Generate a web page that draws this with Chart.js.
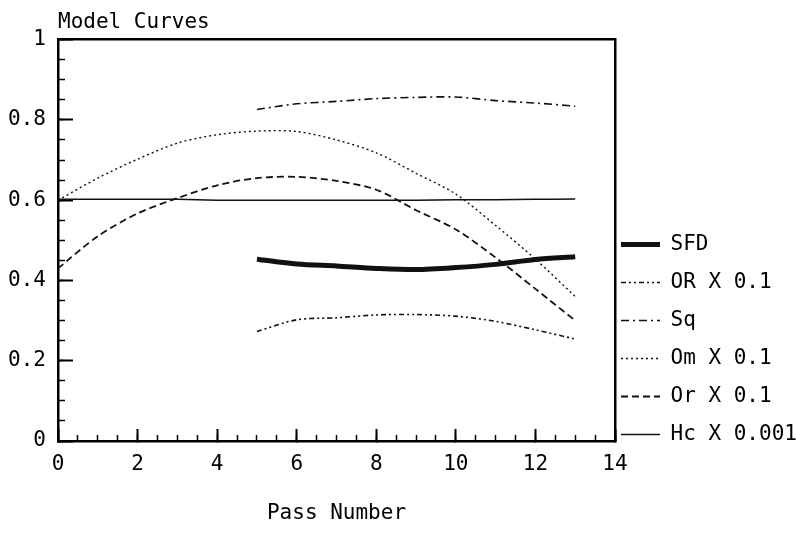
<!DOCTYPE html>
<html><head><meta charset="utf-8">
<script src="https://cdn.jsdelivr.net/npm/chart.js@4"></script>
<style>html,body{margin:0;padding:0;background:#fff}</style>
</head><body>
<canvas id="c" width="796" height="540"></canvas>
<script>
// ---- data ----
const passNumbers = [0, 1, 2, 3, 4, 5, 6, 7, 8, 9, 10, 11, 12, 13];
const seriesNames = ['SFD', 'OR X 0.1', 'Sq', 'Om X 0.1', 'Or X 0.1', 'Hc X 0.001'];
const sfd   = [null, null, null, null, null, 0.453, 0.441, 0.436, 0.430, 0.427, 0.432, 0.440, 0.452, 0.459];
const orBig = [null, null, null, null, null, 0.273, 0.302, 0.307, 0.314, 0.315, 0.311, 0.298, 0.277, 0.254];
const sq    = [null, null, null, null, null, 0.826, 0.840, 0.846, 0.853, 0.856, 0.857, 0.848, 0.842, 0.834];
const om    = [0.600, 0.655, 0.702, 0.742, 0.763, 0.772, 0.771, 0.750, 0.718, 0.667, 0.615, 0.537, 0.453, 0.360];
const orSm  = [0.430, 0.510, 0.567, 0.605, 0.637, 0.655, 0.658, 0.648, 0.626, 0.575, 0.527, 0.457, 0.379, 0.300];
const hc    = [0.602, 0.602, 0.602, 0.602, 0.600, 0.600, 0.600, 0.600, 0.600, 0.600, 0.601, 0.601, 0.602, 0.603];
const xTickStep = 2, xMinorStep = 0.5, yTickStep = 0.2, yMinorStep = 0.05;

const FONT = "'DejaVu Sans Mono', 'Liberation Mono', monospace";
Chart.defaults.font.family = FONT;
Chart.defaults.font.size = 21;
Chart.defaults.color = '#000';

const pts = arr => passNumbers.map((x, i) => ({x: x, y: arr[i]}));
const INK = '#111';
const styles = [
  {borderWidth: 5, borderDash: []},
  {borderWidth: 1.6, borderDash: [5, 3, 2, 3, 2, 3]},
  {borderWidth: 1.6, borderDash: [8, 4, 2, 4]},
  {borderWidth: 1.4, borderDash: [2, 3]},
  {borderWidth: 1.8, borderDash: [7, 4]},
  {borderWidth: 1.5, borderDash: []}
];
const seriesData = [sfd, orBig, sq, om, orSm, hc];

new Chart(document.getElementById('c'), {
  type: 'line',
  data: {
    datasets: seriesData.map((arr, i) => ({
      label: seriesNames[i],
      data: pts(arr),
      borderColor: INK,
      backgroundColor: INK,
      borderWidth: styles[i].borderWidth,
      borderDash: styles[i].borderDash,
      pointRadius: 0,
      tension: 0.3,
      fill: false
    }))
  },
  options: {
    responsive: false,
    animation: false,
    devicePixelRatio: 1,
    layout: {padding: 0},
    plugins: {
      tooltip: {enabled: false},
      title: {
        display: true, text: 'Model Curves', position: 'top', align: 'start', fullSize: false,
        font: {size: 21, weight: 'normal'}, color: '#000', padding: {top: 8, bottom: 4}
      },
      legend: {
        position: 'right', align: 'start', fullSize: true, maxWidth: 181,
        title: {display: true, text: ' ', font: {size: 10}, padding: {top: 0, bottom: 216}},
        labels: {
          usePointStyle: true, pointStyle: 'line', pointStyleWidth: 39, boxWidth: 39,
          padding: 6, color: '#000', font: {size: 21, lineHeight: '32px'},
          generateLabels: chart => Chart.defaults.plugins.legend.labels.generateLabels(chart)
            .map(l => {
              const ds = chart.data.datasets[l.datasetIndex];
              return Object.assign({}, l, {
                text: [l.text],
                lineDash: ds.borderDash,
                lineWidth: ds.borderWidth,
                strokeStyle: ds.borderColor,
                fillStyle: ds.borderColor
              });
            })
        }
      }
    },
    scales: {
      x: {
        type: 'linear', axis: 'x', position: 'bottom', min: 0, max: 14,
        ticks: {stepSize: xTickStep, padding: 23, maxRotation: 0, autoSkip: false, color: '#000'},
        grid: {drawOnChartArea: false, tickLength: -12, tickWidth: 2, tickColor: '#000'},
        border: {display: true, color: '#000', width: 2.5},
        title: {display: true, text: 'Pass Number', color: '#000', padding: {top: 0, bottom: 14}},
        afterFit: s => { s.height = 99; }
      },
      xMinor: {
        type: 'linear', axis: 'x', position: {y: 0}, min: 0, max: 14,
        ticks: {stepSize: xMinorStep, display: false, autoSkip: false, maxTicksLimit: 100},
        grid: {drawOnChartArea: false, tickLength: -6, tickWidth: 1.5, tickColor: '#000'},
        border: {display: false}
      },
      xTop: {
        type: 'linear', axis: 'x', position: 'top', min: 0, max: 14,
        ticks: {display: false},
        grid: {drawOnChartArea: false, drawTicks: false},
        border: {display: true, color: '#000', width: 2.5}
      },
      y: {
        type: 'linear', axis: 'y', position: 'left', min: 0, max: 1,
        ticks: {stepSize: yTickStep, padding: 27, color: '#000',
          callback: v => String(Math.round(v * 100) / 100)},
        grid: {drawOnChartArea: false, tickLength: -15, tickWidth: 2, tickColor: '#000'},
        border: {display: true, color: '#000', width: 2.5},
        afterFit: s => { s.width = 58; }
      },
      yMinor: {
        type: 'linear', axis: 'y', position: {x: 0}, min: 0, max: 1,
        ticks: {stepSize: yMinorStep, display: false, autoSkip: false, maxTicksLimit: 100},
        grid: {drawOnChartArea: false, tickLength: -7, tickWidth: 1.5, tickColor: '#000'},
        border: {display: false}
      },
      yRight: {
        type: 'linear', axis: 'y', position: 'right', min: 0, max: 1,
        ticks: {display: false},
        grid: {drawOnChartArea: false, drawTicks: false},
        border: {display: true, color: '#000', width: 2.5}
      }
    }
  }
});
</script>
</body></html>
